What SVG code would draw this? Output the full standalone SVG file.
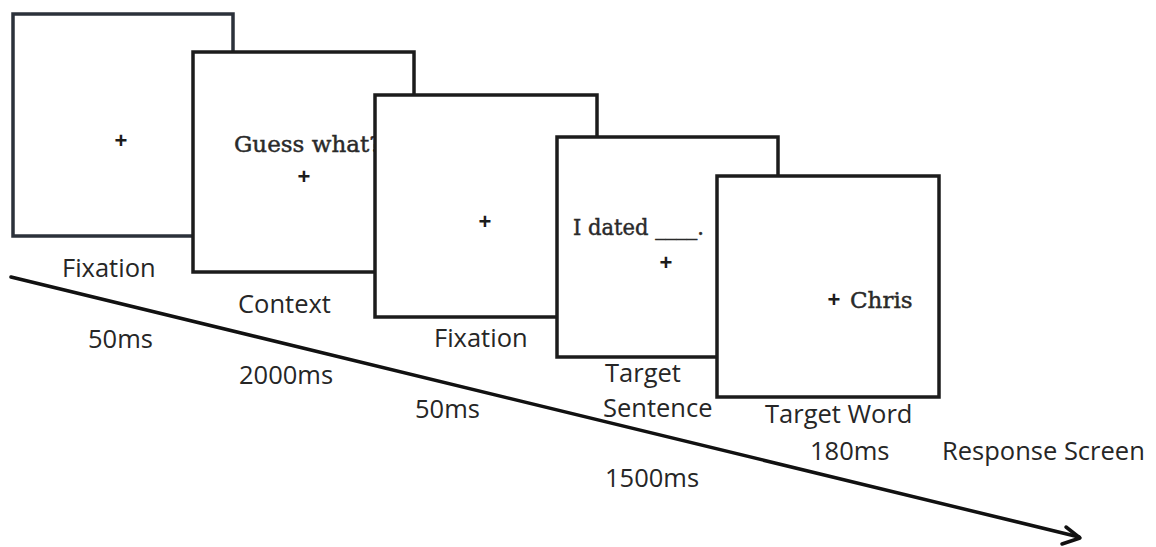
<svg xmlns="http://www.w3.org/2000/svg" width="1156" height="547" viewBox="0 0 1156 547">
<defs>
<style>
.screen{fill:#ffffff;stroke:#1c1c1c;stroke-width:3.5}
.lbl{font-family:"Open Sans","Liberation Sans",sans-serif;font-size:25.5px;fill:#262626}
.ser{font-family:"DejaVu Serif","Liberation Serif",serif;font-size:23px;fill:#2a2a2a;stroke:#2a2a2a;stroke-width:0.45}
.plus{font-family:"Liberation Sans",sans-serif;font-size:22px;font-weight:bold;fill:#1c1c1c;text-anchor:middle}
.axis{fill:none;stroke:#111;stroke-width:3.5;stroke-linecap:round;stroke-linejoin:round}
</style>
</defs>
<rect width="1156" height="547" fill="#ffffff"/>
<g id="screen-fixation-1">
<rect class="screen" x="13" y="14" width="220" height="222" style="stroke:#2b313a"/>
<text class="plus" x="121" y="148">+</text>
<text class="lbl" x="62" y="277">Fixation</text>
<text class="lbl" x="88" y="348">50ms</text>
</g>
<g id="screen-context">
<rect class="screen" x="193" y="52" width="221" height="220"/>
<text class="ser" x="234" y="152">Guess what?</text>
<text class="plus" x="304" y="184">+</text>
<text class="lbl" x="238" y="313">Context</text>
<text class="lbl" x="239" y="384">2000ms</text>
</g>
<g id="screen-fixation-2">
<rect class="screen" x="375" y="95" width="222" height="222"/>
<text class="plus" x="485" y="229">+</text>
<text class="lbl" x="434" y="347">Fixation</text>
<text class="lbl" x="415" y="418">50ms</text>
</g>
<g id="screen-target-sentence">
<rect class="screen" x="557" y="137" width="221" height="220"/>
<text class="ser" x="573" y="235" textLength="131" lengthAdjust="spacingAndGlyphs">I dated ____.</text>
<text class="plus" x="666" y="270">+</text>
<text class="lbl" x="605" y="382">Target</text>
<text class="lbl" x="603" y="417">Sentence</text>
<text class="lbl" x="605" y="487">1500ms</text>
</g>
<g id="screen-target-word">
<rect class="screen" x="717" y="176" width="222" height="221"/>
<text class="plus" x="834" y="307">+</text>
<text class="ser" x="850" y="308">Chris</text>
<text class="lbl" x="765" y="423">Target Word</text>
<text class="lbl" x="810" y="460">180ms</text>
</g>
<g id="response-screen">
<text class="lbl" x="942" y="460">Response Screen</text>
</g>
<g id="connectors">
<line class="axis" x1="11" y1="277" x2="1079" y2="537"/>
<polyline class="axis" points="1066,527 1080,538 1062,544"/>
</g>
</svg>
